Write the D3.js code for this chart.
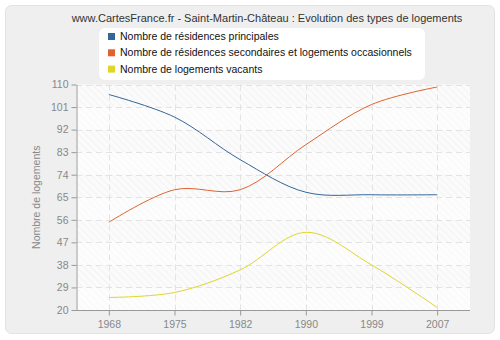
<!DOCTYPE html>
<html><head><meta charset="utf-8">
<script src="https://cdn.jsdelivr.net/npm/d3@7"></script>
<style>body{margin:0;background:#fff}svg{display:block}</style>
</head><body>
<script>
const years = ["1968","1975","1982","1990","1999","2007"];
const principales = [106, 97, 80, 67, 66, 66];
const secondaires = [55, 68, 68, 86, 102, 109];
const vacants = [25, 27, 36, 51, 38, 21];
const yTicks = [20, 29, 38, 47, 56, 65, 74, 83, 92, 101, 110];
const seriesNames = ["Nombre de résidences principales","Nombre de résidences secondaires et logements occasionnels","Nombre de logements vacants"];
const seriesColors = ["#336699","#e0622e","#e0d629"];
const title = "www.CartesFrance.fr - Saint-Martin-Château : Evolution des types de logements";
const yLabel = "Nombre de logements";

const W = 500, H = 340;
const font = '"Liberation Sans", Arial, sans-serif';
const svg = d3.select("body").append("svg").attr("width", W).attr("height", H);

const defs = svg.append("defs");
const pat = defs.append("pattern").attr("id","hatch").attr("patternUnits","userSpaceOnUse")
  .attr("width",5).attr("height",5).attr("patternTransform","rotate(-45)");
pat.append("rect").attr("width",5).attr("height",5).attr("fill","#fbfbfb");
pat.append("line").attr("x1",0).attr("y1",0).attr("x2",0).attr("y2",5).attr("stroke","#eeeeee").attr("stroke-width",1.2);

svg.append("rect").attr("x",5.5).attr("y",5.5).attr("width",489).attr("height",328).attr("rx",6)
  .attr("fill","#efefef").attr("stroke","#e2e2e2");

const pL = 76, pR = 470, pT = 84.5, pB = 310;
const x = d3.scalePoint().domain(years).range([pL, pR]).padding(0.5);
const y = d3.scaleLinear().domain([20, 110]).range([pB, pT]);

svg.append("rect").attr("x",pL).attr("y",pT).attr("width",pR-pL).attr("height",pB-pT).attr("fill","url(#hatch)");
for (let i = 0; i < yTicks.length - 1; i++) {
  if (i % 2 === 0) svg.append("rect").attr("x",pL).attr("y",y(yTicks[i+1])).attr("width",pR-pL)
    .attr("height",y(yTicks[i])-y(yTicks[i+1])).attr("fill","#ffffff").attr("opacity",0.45);
}

const grid = svg.append("g").attr("stroke","#e3e3e3").attr("stroke-dasharray","6,4").attr("stroke-width",1);
yTicks.slice(1).forEach(t => grid.append("line").attr("x1",pL).attr("x2",pR).attr("y1",Math.round(y(t))+0.5).attr("y2",Math.round(y(t))+0.5));
years.forEach(yr => grid.append("line").attr("x1",Math.round(x(yr))+0.5).attr("x2",Math.round(x(yr))+0.5).attr("y1",pT).attr("y2",pB));

const yAxis = svg.append("g").attr("transform",`translate(${pL+0.5},0)`)
  .call(d3.axisLeft(y).tickValues(yTicks).tickSize(5).tickSizeOuter(0).tickPadding(3));
const xAxis = svg.append("g").attr("transform",`translate(0,${pB+0.5})`)
  .call(d3.axisBottom(x).tickSize(5).tickSizeOuter(0).tickPadding(5));
[yAxis, xAxis].forEach(a => {
  a.select(".domain").attr("stroke","#999");
  a.selectAll(".tick line").attr("stroke","#999");
  a.selectAll("text").attr("fill","#888").attr("font-family",font).attr("font-size","10.5px");
});
xAxis.select(".domain").attr("d",`M${pL},0H${pR}`);

svg.append("text").attr("transform",`translate(40,${(pT+pB)/2}) rotate(-90)`).attr("text-anchor","middle")
  .attr("font-family",font).attr("font-size","10.5px").attr("fill","#888").text(yLabel);

const line = d3.line().x((d,i)=>x(years[i])).y(d=>y(d)).curve(d3.curveCatmullRom.alpha(0.5));
[principales, secondaires, vacants].forEach((s,i) => {
  svg.append("path").datum(s).attr("d",line).attr("fill","none").attr("stroke",seriesColors[i]).attr("stroke-width",1);
});

svg.append("text").attr("x",267).attr("y",22).attr("text-anchor","middle").attr("font-family",font)
  .attr("font-size","11px").attr("fill","#333").text(title);

const lg = svg.append("g");
lg.append("rect").attr("x",99).attr("y",28).attr("width",326).attr("height",52).attr("rx",6).attr("fill","#fff");
seriesNames.forEach((n,i) => {
  lg.append("rect").attr("x",108).attr("y",33+i*16.3).attr("width",7).attr("height",7).attr("fill",seriesColors[i]);
  lg.append("text").attr("x",120).attr("y",40+i*16.3).attr("font-family",font).attr("font-size","10.5px").attr("fill","#111").text(n);
});
</script>
</body></html>
